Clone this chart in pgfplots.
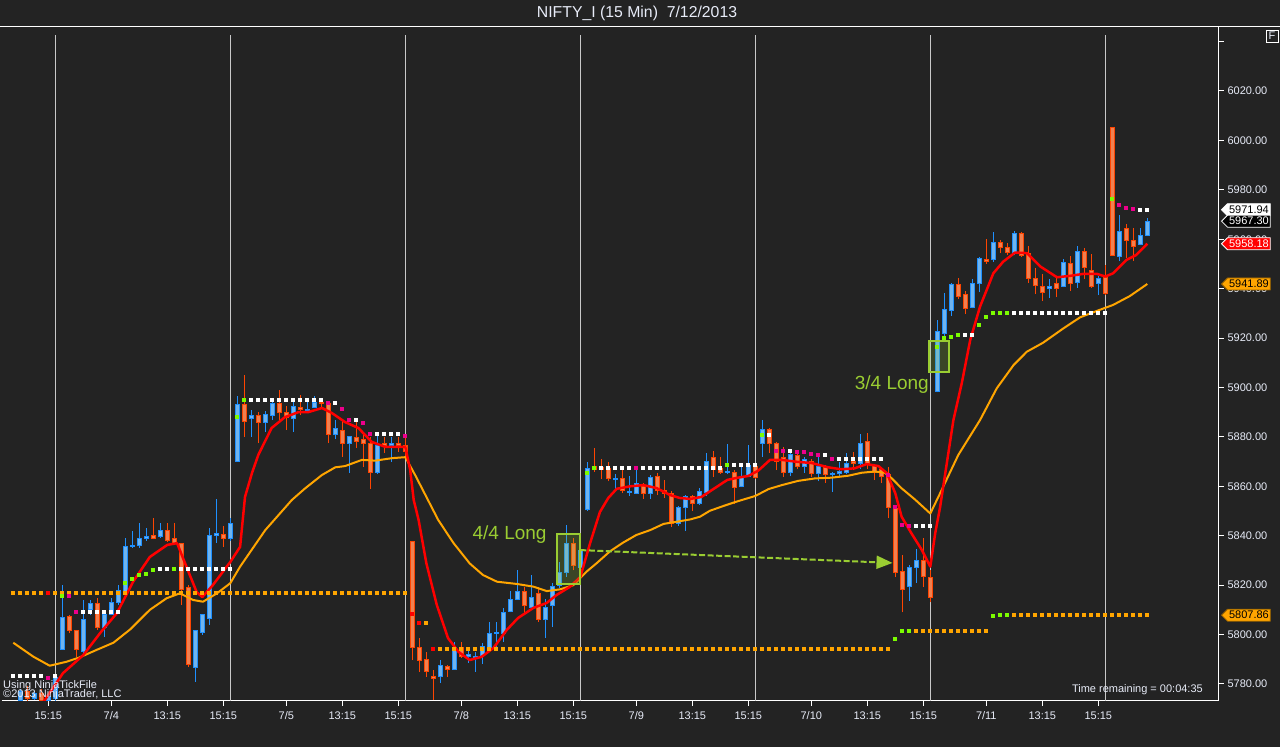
\documentclass[border=0pt]{standalone}
\usepackage{fontspec}
\setmainfont{Liberation Sans}
\usepackage{pgfplots}
\pgfplotsset{compat=1.18}
\usepackage{pgfplotstable}
\usetikzlibrary{arrows.meta,shapes.symbols}

\definecolor{bgc}{HTML}{232323}
\definecolor{upline}{HTML}{1E90FF}
\definecolor{upfill}{HTML}{70B4EE}
\definecolor{dnline}{HTML}{FF4500}
\definecolor{dnfill}{HTML}{F08050}
\definecolor{maorange}{HTML}{FFA500}
\definecolor{dotgreen}{HTML}{7CFC00}
\definecolor{ygreen}{HTML}{9ACD32}
\definecolor{sess}{HTML}{C8C8C8}
\definecolor{lbl}{HTML}{E8ECF8}

% candle drawn from the low upward; 2.47083pt is the y unit
\pgfdeclareplotmark{candle}{%
  \pgfmathsetmacro\cH{(\vH-\vL)*2.47083}%
  \pgfmathsetmacro\cO{(\vO-\vL)*2.47083}%
  \pgfmathsetmacro\cC{(\vC-\vL)*2.47083}%
  \ifdim\vC pt<\vO pt
    \pgfsetstrokecolor{dnline}\pgfsetfillcolor{dnfill}%
  \else
    \pgfsetstrokecolor{upline}\pgfsetfillcolor{upfill}%
  \fi
  \pgfsetlinewidth{1pt}%
  \pgfpathmoveto{\pgfpointorigin}%
  \pgfpathlineto{\pgfpoint{0pt}{\cH pt}}%
  \pgfusepath{stroke}%
  \pgfpathrectanglecorners{\pgfpoint{-2.1pt}{\cO pt}}{\pgfpoint{2.1pt}{\cC pt}}%
  \pgfusepath{fill,stroke}%
}

% a plain filled square for the level dots
\pgfdeclareplotmark{lvlsq}{%
  \pgfpathrectanglecorners{\pgfpoint{-2pt}{-2pt}}{\pgfpoint{2pt}{2pt}}%
  \pgfusepath{fill}%
}

\pgfplotstableread{
k O H L C
-5 5773.5 5778 5773.2 5777
-4 5777 5779 5773.2 5774
-3 5774 5777 5773.5 5776
-2 5776 5778 5773.2 5773.5
-1 5773.5 5776 5773.2 5775
0 5774 5783.5 5773.2 5782.5
1 5794 5820 5794 5807
2 5807.5 5808 5800.5 5801.5
3 5801.5 5802 5791 5794
4 5793 5814 5792 5806
5 5810 5814 5808 5812.4
6 5812.4 5815 5802 5802.7
7 5803 5810 5799 5808
8 5808 5815 5808 5813
9 5813 5820 5812 5818
10 5817 5839 5816 5835.5
11 5835.5 5842 5835 5836
12 5836 5845 5835 5839
13 5838.7 5843 5838 5839.5
14 5840 5847 5838.5 5839
15 5839.5 5845 5839 5842
16 5842 5845 5837.5 5838
17 5839 5845 5836.5 5837
18 5836.7 5837 5812 5818.4
19 5819 5820 5787 5787.7
20 5786.5 5802 5781 5801.5
21 5801 5808.5 5800 5808
22 5806.7 5843 5804 5840
23 5840 5855 5837 5841
24 5840.7 5844 5835.5 5838.7
25 5839 5847 5838 5845
26 5870 5896.6 5870 5893
27 5893.3 5905 5880 5886.4
28 5887.3 5891 5880 5888.5
29 5888.5 5890 5877.5 5886
30 5886 5890.5 5882 5889
31 5888.5 5895 5887 5893.7
32 5893.7 5899 5885.6 5890
33 5890 5892.5 5882.8 5888
34 5887.3 5895 5882 5892.5
35 5892 5897 5889 5891
36 5890.8 5894 5889.5 5891.2
37 5892 5896.6 5891.5 5894
38 5894 5895.5 5892 5893.5
39 5893.7 5894 5877.5 5881
40 5881 5887 5879 5883.6
41 5882.4 5886.6 5872 5877.5
42 5877.5 5880.5 5865.4 5880
43 5879.6 5886.6 5875.5 5878.3
44 5878.8 5881 5868 5877.5
45 5877.5 5880 5859 5865.4
46 5865.4 5880.4 5865 5876.7
47 5877.2 5880 5873.5 5876.7
48 5876.5 5880 5870 5877.5
49 5877.5 5880 5874 5876.5
50 5876.7 5880 5872 5874
51 5837.6 5838 5789.7 5794.6
52 5794.6 5798.6 5785 5789.7
53 5790 5793 5783 5785
54 5783.2 5785.7 5773.5 5782.4
55 5783.2 5789.7 5780.4 5787.3
56 5787 5787.7 5783 5786
57 5786 5797 5786 5794.6
58 5794.6 5797 5790.5 5791
59 5791 5793.4 5788.5 5792
60 5790.8 5793 5785 5791.3
61 5791.7 5796.6 5788 5795
62 5794.6 5805 5794 5800.6
63 5800.4 5805 5795 5800.8
64 5800.6 5810.7 5797 5809
65 5809.5 5817.6 5809 5814.4
66 5814.4 5826 5814 5817.6
67 5817.6 5819.3 5808.7 5811.6
68 5811 5824 5810 5815.2
69 5816.8 5819.3 5805 5806.3
70 5806.3 5814.4 5798.6 5811
71 5811.6 5821 5803 5819.3
72 5819.7 5829.4 5819 5825
73 5825 5844.3 5823.3 5837
74 5837 5839 5826 5828
75 5827 5836 5822 5834
76 5850.8 5870 5850 5867.4
77 5868 5875.5 5866 5867
78 5867.5 5871 5863 5867
79 5867.4 5870 5862 5863
80 5862.8 5865 5858 5863.2
81 5863 5866.6 5857.3 5858.5
82 5857.4 5864 5856 5858
83 5857.3 5867 5857 5861
84 5860 5861.4 5855 5857.3
85 5857 5864.6 5855 5863.4
86 5863.8 5865.4 5856.5 5858.5
87 5858.5 5862.6 5855.3 5857
88 5857.3 5858 5843.5 5845
89 5845 5852 5844 5851.6
90 5851.6 5856.5 5842 5856
91 5856 5856.5 5850 5853
92 5853 5859.3 5852.5 5858
93 5857.7 5873.5 5856 5870
94 5871.5 5874.3 5863.8 5867
95 5867.4 5872 5865 5865.4
96 5865.4 5877 5865 5866.2
97 5865.8 5866.5 5852.8 5859.7
98 5860 5868.6 5859.7 5864
99 5864 5876.7 5863.8 5868.6
100 5868 5868.6 5863 5863.4
101 5877.5 5887 5872 5883
102 5882.8 5883.6 5873.5 5877.5
103 5877.5 5878 5866.6 5870
104 5871.5 5876 5863.8 5865.4
105 5865.4 5874.3 5864 5873
106 5872.3 5873.5 5867 5868.2
107 5868.2 5872 5865.4 5871
108 5870.2 5871 5863.8 5865
109 5865 5872 5862 5868.2
110 5867.8 5868.6 5861.4 5864.6
111 5864.8 5865.6 5857.7 5865.2
112 5865 5870 5863.8 5866
113 5865.4 5873.5 5865 5869.4
114 5870 5874 5866.6 5869.4
115 5869.4 5881 5867 5877.5
116 5878 5881.6 5867 5869
117 5868.6 5869 5862.6 5865.8
118 5867 5868 5861.4 5863.8
119 5864.6 5867.8 5847 5851.6
120 5851.2 5851.6 5823.3 5825.3
121 5825.7 5832.2 5809 5818.4
122 5819.3 5828.2 5813.6 5827
123 5827.3 5834.6 5821 5829.8
124 5829.8 5839 5819.3 5823.7
125 5823 5826 5813 5815
126 5898.2 5927.3 5898 5922.5
127 5922 5938.2 5921 5931.4
128 5931 5942.3 5929 5941.5
129 5941.5 5944.3 5936 5937
130 5937.8 5939 5929.7 5931.8
131 5932.2 5944 5932 5942
132 5942 5953 5938.6 5952.4
133 5952 5960 5950 5950.8
134 5952 5963 5950.8 5958.5
135 5958.5 5959.5 5954.4 5956.5
136 5956.5 5958.5 5953.5 5954.8
137 5954.8 5963.3 5953.5 5962.5
138 5962.5 5963 5953 5953.6
139 5954.4 5957.3 5942.3 5944
140 5944 5948.4 5937.8 5941.1
141 5941 5946 5935 5938.6
142 5940 5944 5936.2 5941
143 5942 5944.3 5936.6 5940
144 5941 5952 5940.5 5950.4
145 5950 5953.2 5939 5942
146 5942.3 5957.3 5940.3 5955.2
147 5955.2 5956.5 5944 5948.4
148 5947.2 5954 5940.3 5941
149 5942 5945 5937.4 5944.3
150 5944.7 5949.6 5937.4 5938.2
151 6005.3 6005.3 5953.3 5953.6
152 5952.9 5970 5951.3 5963.3
153 5964.4 5966.1 5952.3 5959.4
154 5959.3 5964.4 5951.3 5957
155 5957.7 5964.4 5957.5 5961.7
156 5961.7 5968.5 5961.5 5967.3
}\candles

\pgfplotstableread{
k P
-4 5764
-1.5 5773.5
1.1 5784.4
4 5791.7
6.4 5800.6
8.8 5808.7
11.1 5821.3
13.5 5831.4
16 5836.3
17.4 5837
18.8 5827
20.2 5817.2
21 5815.2
22.5 5820
25 5829.4
26.4 5835.5
27.1 5855.7
28.1 5865.4
29 5872.7
30.9 5883.6
32.8 5888
34.7 5890
36.1 5890
38.1 5891.7
39.5 5889.7
41.4 5886
43.3 5883.6
45.2 5878
47.1 5876
49.5 5876
50 5876
50.7 5866.6
51.2 5854.5
51.9 5846.4
53 5829
54.5 5812
56.1 5798.6
57.6 5793
59.2 5789.7
60.9 5791
62.6 5794.6
64.5 5801.9
66.1 5806.7
68.3 5810.8
70.2 5812.8
71.6 5816
73.5 5819.3
75 5823.3
76.4 5837
77.8 5849.6
79 5855.3
80.2 5859
82.1 5860
84 5860.5
85.9 5859.3
87.8 5856.5
89.2 5855.3
90.7 5854.9
92.3 5855.7
93.8 5858.5
96 5862.6
97.3 5863.4
99 5864.2
100.4 5866.3
102.1 5870.7
103.8 5870.7
105.7 5870
108.1 5869.4
110.4 5867.7
112.3 5866.9
114.2 5867.3
115.9 5869
117.6 5868.2
118.8 5865.3
120 5857.2
120.9 5847.7
122.3 5841
123.8 5834.2
125 5827.5
125.7 5841
126.4 5851.6
128.3 5886.8
129.5 5901.8
130.7 5919.2
132.1 5932.7
134 5946.2
135.4 5950.9
137.1 5954.6
138.8 5954.4
140.7 5949
143.1 5944.6
145 5945.2
146.9 5946
148.8 5946
150 5944.9
151.1 5946.2
153 5951.6
154.4 5953.6
156 5958.2
}\fastma

\pgfplotstableread{
k P
-6 5796.7
-3.1 5791
-0.8 5787.4
1.6 5789
3.5 5790.8
5.9 5793.8
8.3 5796.7
10.7 5802.1
13.5 5810
15.9 5814.7
17.8 5816.7
19.7 5814
21.1 5813.3
23.1 5816.7
25 5820.8
26.4 5827.5
30 5842.3
33.8 5854.5
35.7 5859.2
38.1 5864.6
40 5867.7
41.4 5868.2
43.8 5870.7
45.7 5870.4
48.1 5871.4
50 5871.8
51.4 5864.6
54.7 5846.4
56.9 5837
59.2 5828.8
61.1 5824.1
63.1 5821.4
65.9 5820.5
68.3 5819.4
70.2 5817.6
72.1 5818.3
74 5820
75.9 5825.5
77.3 5828.8
79.2 5833.6
81.1 5837.2
83 5840.3
85 5842.3
86.9 5844.8
88.8 5845.7
90.7 5846.6
92.1 5847.7
93.5 5850.1
95.4 5852
97.3 5853.8
100 5856.1
101.9 5858.9
103.8 5860.5
106.1 5862.2
108.5 5863.2
110.9 5863.5
113.3 5864.3
115.2 5865.5
117.1 5866
118.5 5865.5
119.5 5863.2
120.9 5859.2
122.8 5854.7
125 5849
126.4 5857.2
129 5872.7
132.1 5886.8
134.5 5899.7
136.9 5909.1
138.8 5914.5
141.1 5918.1
144 5923.9
146.4 5928.4
148.8 5931
151.1 5933.4
153.5 5937
156 5941.9
}\slowma

\pgfplotsset{
  lvl/.style={only marks, mark=lvlsq, color=#1, fill=#1},
}
\tikzset{
  pricetag/.style n args={3}{signal, signal to=west, anchor=west,
    fill=#1, draw=#2, text=#3, line width=0.8pt,
    inner xsep=1.5pt, inner ysep=0.5pt, minimum height=12pt,
    font=\fontsize{11}{12}\selectfont},
}

\begin{document}
\begin{tikzpicture}
\fill[bgc] (0,0) rectangle (1280pt,747pt);
\useasboundingbox (0,0) rectangle (1280pt,747pt);
\draw[white, line width=1pt] (0,720pt) -- (1280pt,720pt);
\node[text=lbl, font=\fontsize{15.8}{17}\selectfont, inner sep=0pt] at (637pt,734pt) {NIFTY\_I (15 Min)\ \ 7/12/2013};
\node[draw=white, line width=0.8pt, minimum size=12pt, inner sep=0pt, text=lbl,
  font=\fontsize{11}{12}\selectfont] at (1272pt,711pt) {F};

\begin{axis}[
  at={(2pt,46pt)}, anchor=south west,
  x=7pt, y=2.47083pt,
  xmin=-7.614, xmax=166.24, ymin=5773.12, ymax=6045.9,
  axis x line*=bottom, axis y line*=right,
  axis line style={white, line width=1pt},
  clip mode=individual,
  tick align=outside, major tick length=5pt,
  tick style={white, line width=1pt},
  xtick={-1,8,16,24,33,41,49,58,66,74,83,91,99,108,116,124,133,141,149},
  xticklabels={15:15,7/4,13:15,15:15,7/5,13:15,15:15,7/8,13:15,15:15,7/9,13:15,15:15,7/10,13:15,15:15,7/11,13:15,15:15},
  ytick={5780,5800,...,6020},
  extra y ticks={6040}, extra y tick labels={},
  minor tick num=0,
  ticklabel style={font=\fontsize{11}{12}\selectfont, text=lbl},
  xticklabel style={yshift=-2pt},
  yticklabel style={anchor=west},
  y tick label style={/pgf/number format/fixed, /pgf/number format/fixed zerofill,
    /pgf/number format/precision=2, /pgf/number format/1000 sep={}},
  /pgf/number format/assume math mode=true,
]
\pgfplotsinvokeforeach{0,25,50,75,100,125,150}{
  \draw[sess, line width=1pt] (axis cs:#1,5773.12) -- (axis cs:#1,6042.7);
}

% candles
\addplot[only marks, mark=candle,
  visualization depends on={\thisrow{O} \as \vO},
  visualization depends on={\thisrow{H} \as \vH},
  visualization depends on={\thisrow{L} \as \vL},
  visualization depends on={\thisrow{C} \as \vC},
] table[x=k, y=L] {\candles};

% moving averages
\addplot[maorange, line width=2pt, line join=round, mark=none] table[x=k, y=P] {\slowma};
\addplot[red, line width=2.5pt, line join=round, mark=none] table[x=k, y=P] {\fastma};

% level dots
\addplot[lvl=maorange] coordinates {
(-6,5816.9)(-5,5816.9)(-4,5816.9)(-3,5816.9)(-2,5816.9)
(0,5816.9)(1,5816.9)(2,5816.9)(3,5816.9)(4,5816.9)(5,5816.9)(6,5816.9)(7,5816.9)(8,5816.9)(9,5816.9)
(10,5816.9)(11,5816.9)(12,5816.9)(13,5816.9)(14,5816.9)(15,5816.9)(16,5816.9)(17,5816.9)(18,5816.9)(19,5816.9)
(20,5816.9)(21,5816.9)(22,5816.9)(23,5816.9)(24,5816.9)(25,5816.9)(26,5816.9)(27,5816.9)(28,5816.9)(29,5816.9)
(30,5816.9)(31,5816.9)(32,5816.9)(33,5816.9)(34,5816.9)(35,5816.9)(36,5816.9)(37,5816.9)(38,5816.9)(39,5816.9)
(40,5816.9)(41,5816.9)(42,5816.9)(43,5816.9)(44,5816.9)(45,5816.9)(46,5816.9)(47,5816.9)(48,5816.9)(49,5816.9)
(50,5816.9)
(53,5804.8)
(55,5794.2)(56,5794.2)(57,5794.2)(58,5794.2)(59,5794.2)(60,5794.2)(61,5794.2)(62,5794.2)(63,5794.2)(64,5794.2)
(65,5794.2)(66,5794.2)(67,5794.2)(68,5794.2)(69,5794.2)(70,5794.2)(71,5794.2)(72,5794.2)(73,5794.2)(74,5794.2)
(75,5794.2)(76,5794.2)(77,5794.2)(78,5794.2)(79,5794.2)(80,5794.2)(81,5794.2)(82,5794.2)(83,5794.2)(84,5794.2)
(85,5794.2)(86,5794.2)(87,5794.2)(88,5794.2)(89,5794.2)(90,5794.2)(91,5794.2)(92,5794.2)(93,5794.2)(94,5794.2)
(95,5794.2)(96,5794.2)(97,5794.2)(98,5794.2)(99,5794.2)(100,5794.2)(101,5794.2)(102,5794.2)(103,5794.2)(104,5794.2)
(105,5794.2)(106,5794.2)(107,5794.2)(108,5794.2)(109,5794.2)(110,5794.2)(111,5794.2)(112,5794.2)(113,5794.2)(114,5794.2)
(115,5794.2)(116,5794.2)(117,5794.2)(118,5794.2)(119,5794.2)
(123,5801.6)(124,5801.6)(125,5801.6)(126,5801.6)(127,5801.6)(128,5801.6)(129,5801.6)(130,5801.6)(131,5801.6)(132,5801.6)(133,5801.6)
(137,5808)(138,5808)(139,5808)(140,5808)(141,5808)(142,5808)(143,5808)(144,5808)(145,5808)(146,5808)
(147,5808)(148,5808)(149,5808)(150,5808)(151,5808)(152,5808)(153,5808)(154,5808)(155,5808)(156,5808)
};
\addplot[lvl=red] coordinates {(-1,5816.9)(51,5808.3)(52,5804.8)(54,5794.2)};
\addplot[lvl=white] coordinates {
(-6,5783.2)(-5,5783.2)(-4,5783.2)(-3,5783.2)(-2,5783.2)(0,5783.2)
(4,5809.3)(5,5809.3)(6,5809.3)(7,5809.3)(8,5809.3)(9,5809.3)
(15,5826.5)(16,5826.5)(18,5826.5)(19,5826.5)(20,5826.5)(21,5826.5)(22,5826.5)(23,5826.5)(24,5826.5)(25,5826.5)
(28,5894.9)(29,5894.9)(30,5894.9)(31,5894.9)(32,5894.9)(33,5894.9)(34,5894.9)(35,5894.9)(36,5894.9)(37,5894.9)(38,5894.9)
(40,5893.8)(43,5886.8)(46,5881.2)(47,5881.2)(48,5881.2)(49,5881.2)
(78,5867.5)(79,5867.5)(80,5867.5)(81,5867.5)(82,5867.5)(84,5867.5)(85,5867.5)(86,5867.5)(87,5867.5)(88,5867.5)
(89,5867.5)(90,5867.5)(91,5867.5)(92,5867.5)(93,5867.5)(94,5867.5)(95,5867.5)
(97,5868.6)(98,5868.6)(99,5868.6)(100,5868.6)
(102,5880.8)(105,5874.3)(110,5872.7)
(112,5871)(113,5871)(114,5871)(115,5871)(116,5871)(117,5871)(118,5871)
(123,5844)(124,5844)(125,5844)
(130,5921.2)(131,5921.2)
(137,5930.3)(138,5930.3)(139,5930.3)(140,5930.3)(141,5930.3)(142,5930.3)(143,5930.3)(144,5930.3)(145,5930.3)(146,5930.3)
(147,5930.3)(148,5930.3)(149,5930.3)(150,5930.3)
(155,5971.9)(156,5971.9)
};
\addplot[lvl=magenta] coordinates {
(-1,5782.5)(2,5815.6)(3,5809.3)
(39,5893.8)(41,5891.3)(42,5886.8)(44,5885.6)(45,5881.2)(50,5880.4)
(83,5867.5)
(103,5874.3)(104,5874.3)(106,5873.9)(107,5873.9)(108,5873.1)(109,5872.7)(111,5871)
(119,5864.6)(120,5851.6)(121,5844.3)(122,5844)
(152,5974)(153,5972.8)(154,5972.2)
};
\addplot[lvl=dotgreen] coordinates {
(1,5815.5)(10,5820.8)(11,5822.5)(12,5824.2)(13,5824.5)(14,5826.1)(17,5826.5)
(26,5887.9)(27,5894.9)
(76,5865.3)(77,5867.5)(96,5868.6)(101,5880.8)
(120,5798.2)(121,5801.6)(122,5801.6)
(126,5916.5)(127,5919.9)(128,5920.6)(129,5921.2)(132,5925.3)(133,5928.7)
(134,5930.3)(135,5930.3)(136,5930.3)
(134,5807.7)(135,5808.1)(136,5808.1)
(151,5976.3)
};

% trade annotations
\fill[ygreen, fill opacity=0.2] (axis cs:71.67,5820.5) rectangle (axis cs:75,5840.7);
\draw[ygreen, line width=2pt] (axis cs:71.67,5820.5) rectangle (axis cs:75,5840.7);
\fill[ygreen, fill opacity=0.2] (axis cs:124.85,5906.1) rectangle (axis cs:127.71,5918.9);
\draw[ygreen, line width=2pt] (axis cs:124.85,5906.1) rectangle (axis cs:127.71,5918.9);
\draw[ygreen, line width=2pt, dash pattern=on 6pt off 2.5pt,
  -{Triangle[length=16pt,width=13pt]}] (axis cs:75,5834.2) -- (axis cs:119.6,5829);
\node[text=ygreen, font=\fontsize{19}{20}\selectfont, inner sep=0pt] at (axis cs:64.9,5840.3) {4/4 Long};
\node[text=ygreen, font=\fontsize{19}{20}\selectfont, inner sep=0pt] at (axis cs:119.5,5901) {3/4 Long};

% price tags on the right axis
\node[pricetag={white}{white}{black}] at ([xshift=2pt]axis cs:166.24,5971.94) {5971.94};
\node[pricetag={black}{white}{white}] at ([xshift=2pt]axis cs:166.24,5967.30) {5967.30};
\node[pricetag={red}{white}{white}] at ([xshift=2pt]axis cs:166.24,5958.18) {5958.18};
\node[pricetag={maorange}{maorange!60!black}{black}] at ([xshift=2pt]axis cs:166.24,5941.89) {5941.89};
\node[pricetag={maorange}{maorange!60!black}{black}] at ([xshift=2pt]axis cs:166.24,5807.86) {5807.86};
\end{axis}

\node[anchor=west, inner sep=0pt, text=lbl, font=\fontsize{11}{12}\selectfont] at (3pt,61pt) {Using NinjaTickFile};
\node[anchor=west, inner sep=0pt, text=lbl, font=\fontsize{11}{12}\selectfont] at (3pt,52pt) {©2013 NinjaTrader, LLC};
\node[anchor=east, inner sep=0pt, text=lbl, font=\fontsize{11}{12}\selectfont] at (1203pt,57pt) {Time remaining = 00:04:35};
\end{tikzpicture}
\end{document}
